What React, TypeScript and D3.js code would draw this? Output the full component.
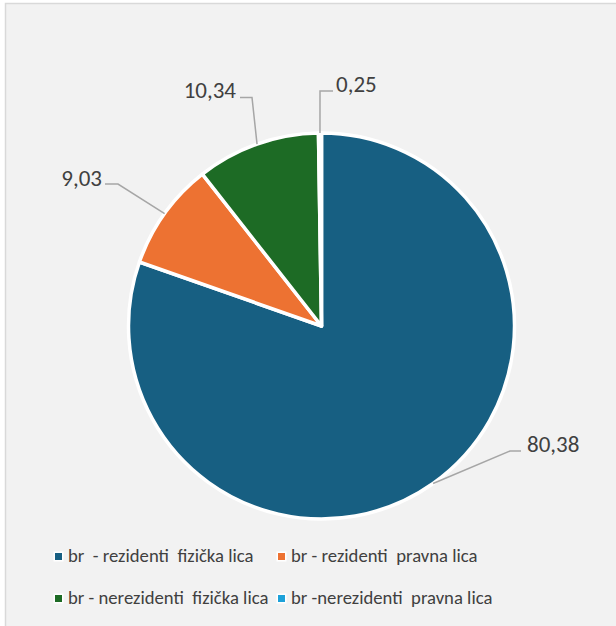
import React from "react";
import * as d3 from "d3";

const categories = [
  "br  - rezidenti  fizička lica",
  "br - rezidenti  pravna lica",
  "br - nerezidenti  fizička lica",
  "br -nerezidenti  pravna lica",
];
const values = [80.38, 9.03, 10.34, 0.25];
const valueLabels = ["80,38", "9,03", "10,34", "0,25"];
const colors = ["#175f82", "#ed7232", "#1d6b25", "#1da1d9"];

// label layout: elbow point, line end and text anchor
const labelLayout = [
  { elbow: [510, 451], end: [521, 451], text: [527, 452], anchor: "start" },
  { elbow: [118, 184], end: [105, 184], text: [102, 186], anchor: "end" },
  { elbow: [252, 97.5], end: [240, 97.5], text: [236, 98], anchor: "end" },
  { elbow: [320, 91], end: [333, 91], text: [336, 92], anchor: "start" },
];

const legendLayout = [
  { x: 55, y: 553 },
  { x: 278, y: 553 },
  { x: 55, y: 595 },
  { x: 278, y: 595 },
];

export default function App() {
  const W = 616, H = 626;
  const cx = 321.5, cy = 326, r = 193;
  const pie = d3.pie<number>().sort(null).startAngle(0).endAngle(2 * Math.PI);
  const arcs = pie(values);
  const arc = d3.arc<d3.PieArcDatum<number>>().innerRadius(0).outerRadius(r);
  const font = "Carlito, Calibri, sans-serif";
  return (
    <svg width={W} height={H} style={{ position: "absolute", left: 0, top: 0 }} fontFamily={font}>
      <rect x={0} y={0} width={W} height={H} fill="#ffffff" />
      <rect x={5.5} y={3.5} width={W + 10} height={H + 10} fill="#f2f2f2" stroke="#d9d9d9" strokeWidth={1.5} />
      <g transform={`translate(${cx},${cy})`}>
        {arcs.map((a, i) => (
          <path key={i} d={arc(a) || ""} fill={colors[i]} stroke="#ffffff" strokeWidth={3.5} strokeLinejoin="round" />
        ))}
      </g>
      {arcs.map((a, i) => {
        const mid = (a.startAngle + a.endAngle) / 2;
        const sx = cx + r * Math.sin(mid);
        const sy = cy - r * Math.cos(mid);
        const L = labelLayout[i];
        return (
          <g key={i}>
            <polyline
              points={`${sx},${sy} ${L.elbow[0]},${L.elbow[1]} ${L.end[0]},${L.end[1]}`}
              fill="none"
              stroke="#a6a6a6"
              strokeWidth={1.5}
            />
            <text x={L.text[0]} y={L.text[1]} textAnchor={L.anchor as any} fontSize={23} fill="#404040">
              {valueLabels[i]}
            </text>
          </g>
        );
      })}
      {categories.map((c, i) => {
        const L = legendLayout[i];
        return (
          <g key={i}>
            <rect x={L.x - 1.5} y={L.y - 1.5} width={10} height={10} fill="#ffffff" />
            <rect x={L.x} y={L.y} width={7} height={7} fill={colors[i]} />
            <text x={L.x + 13} y={L.y + 8.7} fontSize={18.7} fill="#404040" style={{ whiteSpace: "pre" }}>
              {c}
            </text>
          </g>
        );
      })}
    </svg>
  );
}
